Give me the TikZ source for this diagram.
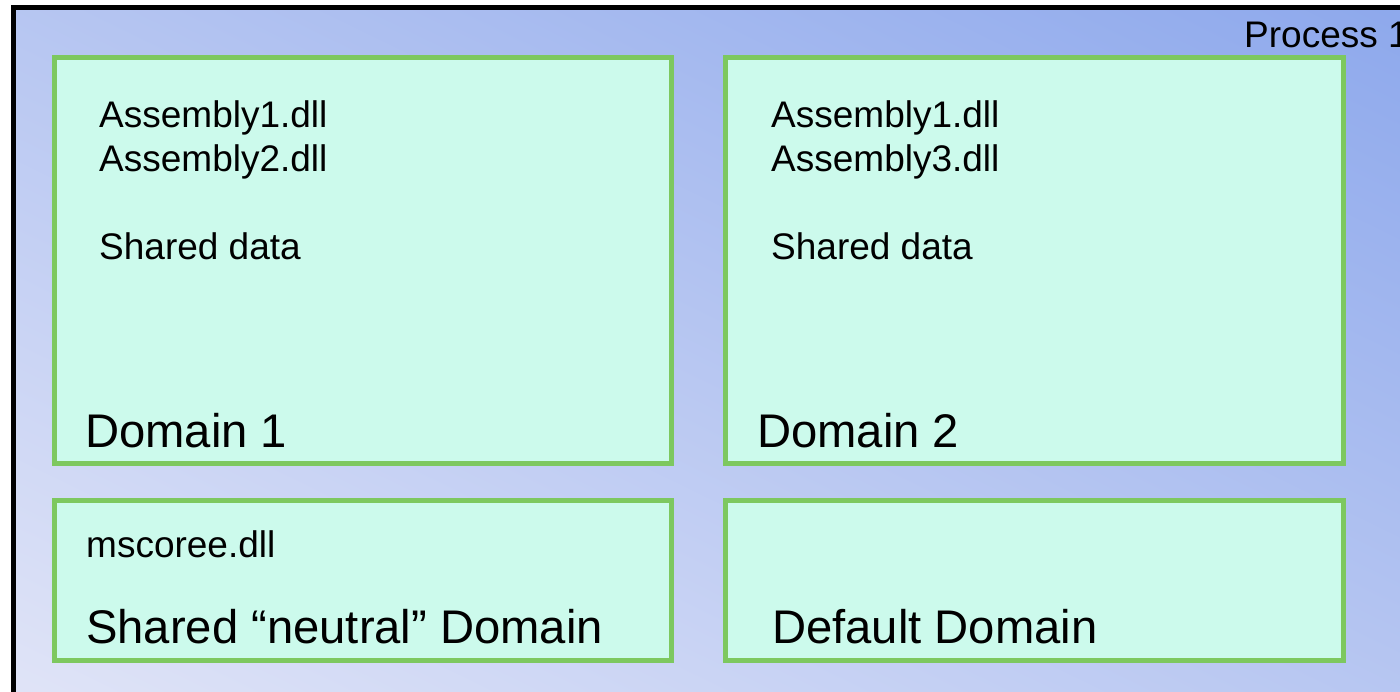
\documentclass[tikz,border=0pt]{standalone}
\usepackage{fontspec}
\setmainfont{Liberation Sans}
\definecolor{procdark}{RGB}{141,168,236}
\definecolor{proclight}{RGB}{224,228,247}
\definecolor{domfill}{RGB}{204,250,236}
\definecolor{domline}{RGB}{125,200,95}
\tikzset{domainbox/.style={draw=domline, fill=domfill, line width=5pt,
    inner sep=0pt, outer sep=0pt, anchor=north west},
  smalltxt/.style={font=\fontsize{37}{44}\selectfont, inner sep=0pt, anchor=base west},
  bigtxt/.style={font=\fontsize{47.2}{56}\selectfont, inner sep=0pt, anchor=base west},}

\begin{document}
\begin{tikzpicture}[x=1pt, y=-1pt]
  \useasboundingbox (0,0) rectangle (1400,691);
  \fill[white] (0,0) rectangle (1400,691);
  \clip (0,0) rectangle (1400,691);
  % process area, shaded from bottom left to top right
  \begin{scope}
    \clip (13.5,7.5) rectangle (1430,720);
    \begin{scope}[transform canvas={rotate around={-26:(700,345)}}]
      \shade[top color=procdark, bottom color=proclight] (-200,-273) rectangle (1600,963);
    \end{scope}
  \end{scope}
  \draw[black, line width=5pt] (13.5,7.5) rectangle (1430,720);
  \node[smalltxt] (proc) at (1244,47) {Process 1};
  % domains
  \node[domainbox, minimum width=617pt, minimum height=406pt] (dom1) at (54,57) {};
  \node[domainbox, minimum width=618pt, minimum height=406pt] (dom2) at (725,57) {};
  \node[domainbox, minimum width=617pt, minimum height=160pt] (shared) at (54,500) {};
  \node[domainbox, minimum width=618pt, minimum height=160pt] (default) at (725,500) {};
  % domain 1
  \node[smalltxt] (asm11) at (99,127) {Assembly1.dll};
  \node[smalltxt] (asm12) at (99,171) {Assembly2.dll};
  \node[smalltxt] (data1) at (99,259) {Shared data};
  \node[bigtxt] (name1) at (85,447) {Domain 1};
  % domain 2
  \node[smalltxt] (asm21) at (771,127) {Assembly1.dll};
  \node[smalltxt] (asm23) at (771,171) {Assembly3.dll};
  \node[smalltxt] (data2) at (771,259) {Shared data};
  \node[bigtxt] (name2) at (757,447) {Domain 2};
  % lower domains
  \node[smalltxt] (mscoree) at (86,557) {mscoree.dll};
  \node[bigtxt] (nameshared) at (86,643) {Shared “neutral” Domain};
  \node[bigtxt] (namedefault) at (772,643) {Default Domain};
\end{tikzpicture}
\end{document}
